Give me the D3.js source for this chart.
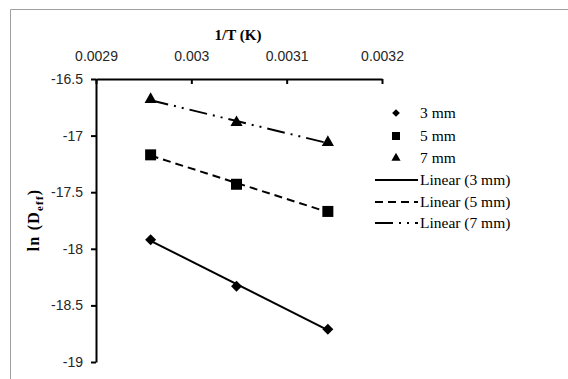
<!DOCTYPE html>
<html>
<head>
<meta charset="utf-8">
<script src="https://cdn.jsdelivr.net/npm/d3@7"></script>
<style>
  body { margin: 0; background: #fff; overflow: hidden; }
  svg { display: block; }
</style>
</head>
<body>
<div id="wrapper"></div>
<script>
// 1. Data
const invT = [0.0029573, 0.0030474, 0.0031432]   // 1/T at 65, 55, 45 °C
const lnD3mm = [-17.92, -18.33, -18.71]
const lnD5mm = [-17.17, -17.43, -17.67]
const lnD7mm = [-16.68, -16.885, -17.06]
const seriesNames = ["3 mm", "5 mm", "7 mm"]
const xTicks = [0.0029, 0.003, 0.0031, 0.0032]
const yTicks = [-16.5, -17, -17.5, -18, -18.5, -19]

// 2. Dimensions
const dimensions = {
  width: 568,
  height: 379,
  margin: { top: 79, left: 96 },
  boundedWidth: 286,
  boundedHeight: 283
}

// 3. Canvas
const wrapper = d3.select("#wrapper")
  .append("svg")
    .attr("width", dimensions.width)
    .attr("height", dimensions.height)

// chart area frame: only its left and top edges are inside the picture
wrapper.append("path")
    .attr("d", "M10.5,379V9.5H568")
    .attr("fill", "none")
    .attr("stroke", "#a0a0a0")
    .attr("stroke-width", 1)

const bounds = wrapper.append("g")
    .attr("transform", `translate(${dimensions.margin.left},${dimensions.margin.top})`)

// 4. Scales
const xScale = d3.scaleLinear()
  .domain([0.0029, 0.0032])
  .range([0, dimensions.boundedWidth])

const yScale = d3.scaleLinear()
  .domain([-16.5, -19])
  .range([0, dimensions.boundedHeight])

// 5. Data: trendlines then markers
const series = [
  { name: seriesNames[0], values: lnD3mm, dash: null, shape: "diamond" },
  { name: seriesNames[1], values: lnD5mm, dash: "8,5", shape: "square" },
  { name: seriesNames[2], values: lnD7mm, dash: "18,6,2,6,2,6", shape: "triangle" },
]

// least squares fit, like Excel's linear trendline
const fit = (xs, ys) => {
  const mx = d3.mean(xs), my = d3.mean(ys)
  const slope = d3.sum(xs, (x, i) => (x - mx) * (ys[i] - my)) / d3.sum(xs, x => (x - mx) ** 2)
  return x => my + slope * (x - mx)
}

const markerPath = (shape, big) => {
  if (shape === "diamond") return d3.symbol(d3.symbolSquare, big ? 60 : 30)()
  if (shape === "square") return d3.symbol(d3.symbolSquare, big ? 121 : 64)()
  return d3.symbol(d3.symbolTriangle, big ? 64 : 36)()
}

series.forEach(s => {
  const f = fit(invT, s.values)
  const ext = d3.extent(invT)
  bounds.append("line")
      .attr("x1", xScale(ext[0]))
      .attr("y1", yScale(f(ext[0])))
      .attr("x2", xScale(ext[1]))
      .attr("y2", yScale(f(ext[1])))
      .attr("stroke", "#000")
      .attr("stroke-width", 2)
      .attr("stroke-dasharray", s.dash)
})

series.forEach(s => {
  bounds.selectAll(null)
    .data(s.values)
    .enter().append("path")
      .attr("d", markerPath(s.shape, true))
      .attr("transform", (d, i) => `translate(${xScale(invT[i])},${yScale(d)})` + (s.shape === "diamond" ? " rotate(45)" : ""))
      .attr("fill", "#000")
})

// 6. Axes
const xAxisGenerator = d3.axisTop(xScale)
  .tickValues(xTicks)
  .tickFormat(d => String(d))
  .tickSizeInner(-5)
  .tickSizeOuter(0)
  .tickPadding(18)

const xAxis = bounds.append("g").call(xAxisGenerator)

const yAxisGenerator = d3.axisLeft(yScale)
  .tickValues(yTicks)
  .tickFormat(d => String(d))
  .tickSizeInner(5)
  .tickSizeOuter(0)
  .tickPadding(8)

const yAxis = bounds.append("g").call(yAxisGenerator)

;[xAxis, yAxis].forEach(ax => {
  ax.selectAll("path, line")
      .attr("stroke", "#000")
      .attr("stroke-width", 2)
  ax.selectAll("text")
      .attr("fill", "#262626")
      .style("font-family", "'Liberation Sans', Arial, sans-serif")
      .style("font-size", "14px")
})
xAxis.selectAll("text").attr("dy", "0em")

wrapper.append("text")
    .attr("x", 238)
    .attr("y", 40)
    .attr("text-anchor", "middle")
    .style("font-family", "'Liberation Serif', 'Times New Roman', serif")
    .style("font-weight", "bold")
    .style("font-size", "15px")
    .text("1/T (K)")

const yLabel = wrapper.append("text")
    .attr("transform", "translate(39,220) rotate(-90)")
    .attr("text-anchor", "middle")
    .style("font-family", "'Liberation Serif', 'Times New Roman', serif")
    .style("font-weight", "bold")
    .style("font-size", "16px")
    .style("letter-spacing", "1.2px")
yLabel.append("tspan").text("ln (D")
yLabel.append("tspan").attr("dy", 4).style("font-size", "11px").text("eff")
yLabel.append("tspan").attr("dy", -4).text(")")

// 7. Legend
const legendRows = [
  ...series.map(s => ({ label: s.name, shape: s.shape })),
  ...series.map(s => ({ label: `Linear (${s.name})`, dash: s.dash, line: true })),
]
const legendY = [113, 136, 158, 180, 202, 223]

const legend = wrapper.append("g")
legendRows.forEach((r, i) => {
  const row = legend.append("g").attr("transform", `translate(0,${legendY[i]})`)
  if (r.line) {
    row.append("line")
        .attr("x1", 375).attr("x2", 418)
        .attr("stroke", "#000")
        .attr("stroke-width", 2)
        .attr("stroke-dasharray", r.dash)
  } else {
    row.append("path")
        .attr("d", markerPath(r.shape, false))
        .attr("transform", "translate(396,0)" + (r.shape === "diamond" ? " rotate(45)" : ""))
        .attr("fill", "#000")
  }
  row.append("text")
      .attr("x", 420)
      .attr("dy", "0.35em")
      .style("font-family", "'Liberation Serif', 'Times New Roman', serif")
      .style("font-size", "15.5px")
      .text(r.label)
})
</script>
</body>
</html>
